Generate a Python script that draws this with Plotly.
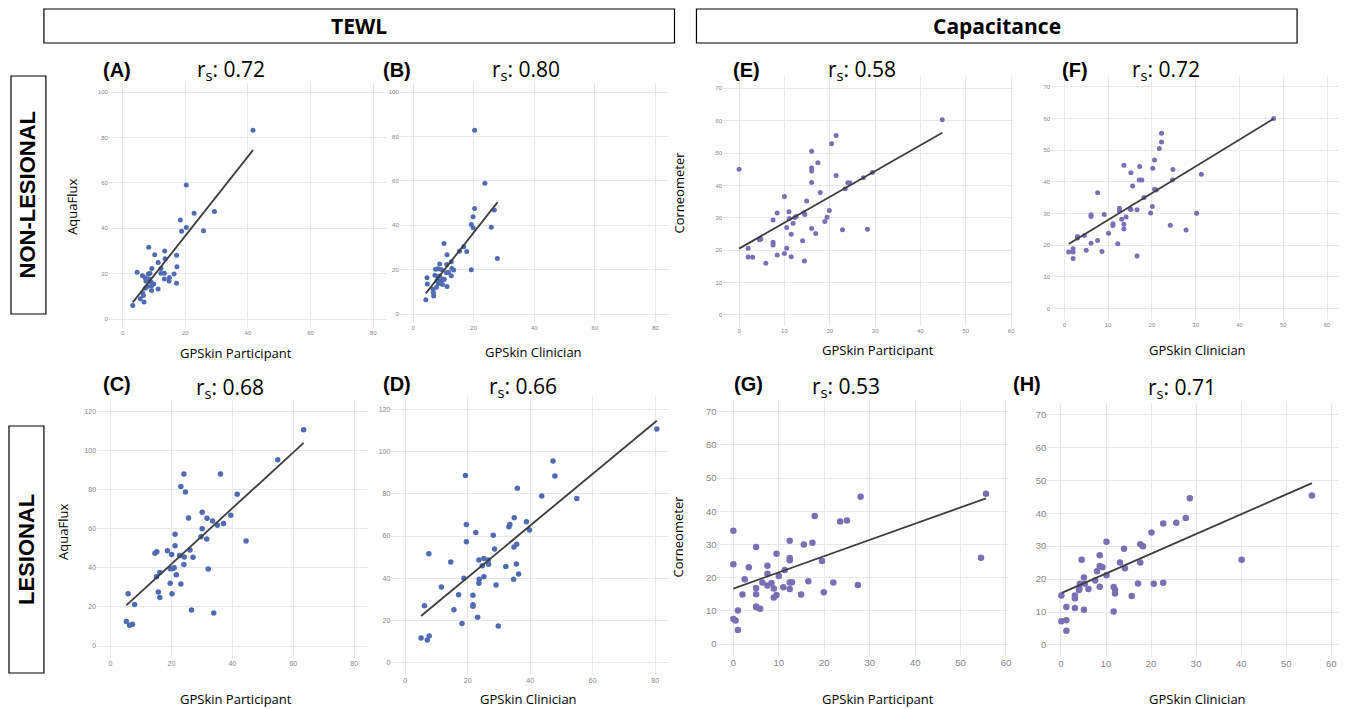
import plotly.graph_objects as go

# ---------------- DATA ----------------
# (A) TEWL, non-lesional: GPSkin Participant vs AquaFlux
A_x = [41.6, 20.3, 22.8, 29.3, 18.4, 20.3, 18.8, 25.8, 8.3, 10.2, 13.4, 13.5, 17.2, 11.3, 17.3,
       12.2, 9.3, 8.7, 8.2, 6.3, 4.6, 7.2, 8.5, 13.3, 12.2, 16.4, 14.9, 13.3, 14.8, 17.2,
       7.4, 9.0, 9.9, 9.2, 7.9, 11.3, 9.2, 7.2, 6.4, 6.6, 5.6, 6.8, 3.2]
A_y = [83.2, 59.0, 46.6, 47.4, 43.6, 40.3, 38.7, 38.9, 31.6, 28.3, 30.0, 26.5, 28.1, 24.9, 23.0,
       22.3, 22.3, 20.2, 19.8, 19.0, 20.6, 18.2, 17.6, 20.2, 20.2, 19.8, 18.3, 17.6, 16.7, 15.7,
       16.7, 16.4, 15.4, 14.6, 14.3, 13.2, 12.6, 13.6, 11.4, 10.4, 8.9, 7.5, 6.0]
A_fit_x = [3.2, 41.6]
A_fit_y = [7.3, 74.4]

# (B) TEWL, non-lesional: GPSkin Clinician vs AquaFlux
B_x = [20.3, 23.7, 26.8, 20.3, 19.8, 19.2, 19.8, 25.8, 10.2, 27.8, 11.2, 16.7, 17.7, 15.3, 8.8,
       11.1, 12.6, 19.2, 7.4, 8.2, 9.3, 12.8, 13.4, 11.7, 11.0, 12.6, 7.2, 8.1, 8.8, 4.6,
       9.9, 7.9, 8.7, 9.2, 10.3, 4.7, 8.3, 9.7, 11.2, 7.7, 6.6, 6.7, 6.8, 4.2]
B_y = [82.8, 58.9, 46.8, 47.5, 43.8, 40.3, 38.8, 39.1, 31.8, 25.0, 26.7, 30.3, 28.2, 28.3, 22.5,
       22.3, 23.5, 19.9, 20.2, 20.4, 20.1, 20.5, 19.8, 18.7, 18.6, 17.2, 17.5, 16.8, 17.1, 16.3,
       15.7, 15.0, 14.4, 15.0, 15.6, 13.5, 13.6, 13.3, 12.4, 12.0, 11.1, 9.6, 8.1, 6.4]
B_fit_x = [4.2, 27.9]
B_fit_y = [9.3, 50.4]

# (C) TEWL, lesional: GPSkin Participant vs AquaFlux
C_x = [63.4, 54.9, 24.1, 36.1, 23.1, 24.6, 41.6, 39.5, 25.6, 30.1, 31.7, 33.5, 37.1, 35.1, 30.1,
       29.7, 31.6, 44.5, 21.2, 21.2, 18.7, 14.6, 15.2, 20.1, 22.7, 24.2, 26.1, 27.1, 24.1, 20.3,
       20.9, 19.6, 16.2, 21.6, 32.1, 15.1, 19.6, 23.1, 15.7, 20.2, 16.2, 5.8, 7.9, 26.6, 33.9,
       5.2, 6.3, 7.2]
C_y = [110.8, 95.4, 88.1, 88.1, 81.7, 78.9, 77.7, 66.9, 65.6, 68.5, 65.4, 64.0, 62.8, 61.8, 60.1,
       56.0, 54.8, 53.8, 57.2, 51.4, 48.8, 47.5, 48.3, 46.8, 46.3, 45.6, 49.2, 45.4, 41.8, 39.6,
       40.1, 39.6, 37.6, 36.5, 39.4, 35.5, 32.1, 31.8, 27.7, 26.8, 24.8, 26.8, 21.2, 18.4, 16.9,
       12.5, 10.6, 11.1]
C_fit_x = [5.2, 63.4]
C_fit_y = [20.8, 104.0]

# (D) TEWL, lesional: GPSkin Clinician vs AquaFlux
D_x = [80.5, 47.3, 47.9, 19.3, 35.9, 43.7, 54.9, 34.9, 38.8, 33.5, 33.2, 39.8, 19.6, 22.6, 28.2,
       19.6, 35.7, 34.8, 28.6, 7.6, 14.6, 25.2, 23.6, 26.6, 26.7, 24.7, 35.6, 32.2, 18.8, 25.2,
       23.7, 23.6, 34.7, 36.3, 29.1, 11.6, 17.1, 21.7, 21.7, 21.7, 15.6, 6.2, 23.2, 18.2, 29.8,
       5.1, 7.1, 7.7]
D_y = [110.7, 95.5, 88.4, 88.6, 82.6, 79.0, 77.7, 68.7, 66.8, 65.5, 64.4, 62.8, 65.5, 61.7, 60.3,
       57.3, 56.1, 54.8, 53.8, 51.6, 47.7, 49.3, 48.6, 48.6, 46.6, 45.9, 46.7, 45.5, 40.0, 40.7,
       39.5, 37.6, 39.5, 42.0, 36.8, 35.8, 32.2, 31.9, 27.5, 26.7, 25.1, 27.0, 21.5, 18.6, 17.4,
       11.7, 10.7, 12.6]
D_fit_x = [5.1, 80.5]
D_fit_y = [22.1, 114.6]

# (E) Capacitance, non-lesional: GPSkin Participant vs Corneometer
E_x = [44.8, 21.4, 20.4, 16.0, 0.0, 16.0, 16.0, 17.4, 21.4, 16.0, 17.9, 24.0, 24.4, 23.4, 27.4,
       29.4, 10.0, 14.9, 8.4, 11.0, 14.3, 14.5, 11.1, 12.3, 12.6, 19.9, 19.4, 18.9, 7.5, 11.9,
       10.5, 16.0, 16.9, 22.8, 28.3, 11.5, 7.5, 7.5, 14.0, 4.8, 4.5, 2.0, 10.5, 10.0, 8.4,
       11.5, 2.0, 3.0, 5.9, 14.4]
E_y = [60.3, 55.4, 52.9, 50.6, 45.0, 45.4, 44.5, 47.0, 43.1, 40.9, 37.8, 40.8, 40.8, 39.0, 42.4,
       44.0, 36.6, 35.2, 31.5, 31.9, 31.6, 31.0, 29.8, 30.1, 30.4, 32.3, 30.2, 28.9, 29.3, 28.3,
       27.0, 26.7, 25.2, 26.3, 26.5, 24.9, 22.5, 21.6, 22.9, 23.5, 23.2, 20.6, 20.6, 19.0, 18.5,
       18.0, 17.9, 17.8, 16.0, 16.7]
E_fit_x = [0.0, 44.8]
E_fit_y = [20.5, 56.3]

# (F) Capacitance, non-lesional: GPSkin Clinician vs Corneometer
F_x = [47.8, 22.2, 22.2, 21.7, 20.6, 20.2, 24.8, 13.6, 17.2, 15.2, 31.3, 17.1, 17.7, 24.7, 15.6,
       7.6, 20.6, 21.0, 18.2, 12.6, 12.6, 15.0, 15.2, 16.6, 20.1, 19.7, 30.2, 6.1, 6.1, 9.1,
       14.1, 13.1, 11.1, 11.1, 13.6, 13.6, 24.2, 27.8, 10.1, 3.0, 3.0, 4.6, 7.6, 6.1, 12.2,
       5.0, 8.6, 2.0, 1.0, 2.0, 2.0, 16.6]
F_y = [60.0, 55.3, 52.6, 50.5, 46.9, 44.3, 43.9, 45.2, 44.8, 42.9, 42.4, 40.6, 40.6, 40.6, 38.7,
       36.6, 37.7, 37.4, 35.1, 31.7, 30.8, 31.5, 31.3, 31.2, 32.2, 30.2, 30.1, 29.6, 29.1, 29.7,
       28.9, 28.2, 26.8, 26.2, 26.6, 25.1, 26.3, 24.8, 23.8, 22.8, 22.3, 23.1, 21.5, 20.6, 20.5,
       18.4, 18.0, 18.9, 17.9, 17.9, 15.8, 16.6]
F_fit_x = [1.0, 47.8]
F_fit_y = [20.4, 59.9]

# (G) Capacitance, lesional: GPSkin Participant vs Corneometer
G_x = [55.6, 28.0, 17.9, 23.5, 25.0, 0.0, 12.4, 17.4, 15.5, 5.0, 9.5, 12.4, 12.4, 19.5, 54.5,
       0.0, 7.5, 3.4, 11.3, 7.5, 10.0, 2.5, 6.4, 8.4, 12.4, 12.9, 16.5, 22.0, 7.5, 27.4,
       5.0, 8.9, 11.0, 12.4, 19.9, 2.0, 5.0, 9.5, 14.9, 8.9, 5.0, 5.1, 5.9, 1.0, 0.0,
       0.5, 1.0]
G_y = [45.3, 44.4, 38.6, 36.9, 37.2, 34.1, 31.1, 30.5, 30.0, 29.2, 27.2, 25.9, 25.2, 25.0, 26.0,
       24.0, 23.6, 23.1, 22.3, 21.2, 20.5, 19.5, 18.5, 18.4, 18.5, 18.6, 18.9, 18.5, 17.6, 17.8,
       16.9, 16.7, 17.1, 16.6, 15.6, 14.9, 15.0, 14.8, 14.9, 14.0, 11.3, 11.1, 10.6, 10.1, 7.5,
       7.1, 4.2]
G_fit_x = [0.0, 55.6]
G_fit_y = [16.7, 43.9]

# (H) Capacitance, lesional: GPSkin Clinician vs Corneometer
H_x = [55.7, 28.6, 27.7, 25.6, 22.7, 20.1, 10.1, 17.6, 18.2, 14.0, 8.6, 4.6, 40.1, 13.1, 17.6,
       8.6, 9.2, 14.2, 8.0, 10.1, 5.1, 7.6, 4.2, 5.3, 4.0, 6.1, 4.1, 8.6, 11.7, 12.0,
       12.0, 17.1, 20.6, 22.7, 15.7, 0.1, 3.1, 3.1, 3.1, 5.1, 1.2, 11.7, 0.1, 1.2, 1.2]
H_y = [45.4, 44.5, 38.5, 37.1, 36.9, 34.1, 31.3, 30.6, 30.0, 29.2, 27.2, 25.9, 25.9, 25.0, 25.0,
       24.0, 23.6, 23.3, 22.4, 21.2, 20.5, 19.6, 18.6, 18.6, 16.7, 17.0, 17.1, 17.7, 17.6, 16.8,
       15.6, 18.7, 18.6, 18.9, 14.9, 15.0, 15.0, 14.2, 11.2, 10.7, 11.5, 10.2, 7.2, 7.5, 4.3]
H_fit_x = [0.2, 55.7]
H_fit_y = [15.8, 49.1]

panel_letters = ["(A)", "(B)", "(C)", "(D)", "(E)", "(F)", "(G)", "(H)"]
rs_values = ["0.72", "0.80", "0.68", "0.66", "0.58", "0.72", "0.53", "0.71"]
x_titles = ["GPSkin Participant", "GPSkin Clinician", "GPSkin Participant", "GPSkin Clinician",
            "GPSkin Participant", "GPSkin Clinician", "GPSkin Participant", "GPSkin Clinician"]
y_titles = ["AquaFlux", None, "AquaFlux", None, "Corneometer", None, "Corneometer", None]
group_titles = ["TEWL", "Capacitance"]
row_titles = ["NON-LESIONAL", "LESIONAL"]

TEWL_COLOR = "#4f6cb2"
CAP_COLOR = "#7a6fb5"

# ---------------- LAYOUT ----------------
# The page body has an 8px margin, so the figure is drawn 8px in from the window corner.
OFF = 8
W, H = 1347 - OFF, 709 - OFF
def PX(p):
    return (p - OFF) / W
def PY(p):
    return 1 - (p - OFF) / H

FONT = "Open Sans"

# pixel calibration (window pixels): (pixel at v0, v0, pixel at v1, v1), axis range, ticks, fonts
panels = [
    dict(x=A_x, y=A_y, fx=A_fit_x, fy=A_fit_y, c=TEWL_COLOR,
         xm=(123, 0, 374, 80), ym=(319, 0, 92, 100), xr=(-4.4, 84.4), yr=(-4, 104),
         xt=[0, 20, 40, 60, 80], yt=[0, 20, 40, 60, 80, 100], tf=6, ms=5,
         lab=(117, 70), rs=(232, 70), xtp=(237, 353), ytp=(72, 207)),
    dict(x=B_x, y=B_y, fx=B_fit_x, fy=B_fit_y, c=TEWL_COLOR,
         xm=(414, 0, 657, 80), ym=(314, 0, 92, 100), xr=(-4.4, 84.4), yr=(-4, 104),
         xt=[0, 20, 40, 60, 80], yt=[0, 20, 40, 60, 80, 100], tf=6, ms=5,
         lab=(398, 70), rs=(527, 70), xtp=(535, 352), ytp=None),
    dict(x=C_x, y=C_y, fx=C_fit_x, fy=C_fit_y, c=TEWL_COLOR,
         xm=(110.7, 0, 355, 80), ym=(646, 0, 411.7, 120), xr=(-4.4, 84.4), yr=(-6, 126),
         xt=[0, 20, 40, 60, 80], yt=[0, 20, 40, 60, 80, 100, 120], tf=7, ms=5.5,
         lab=(117, 384), rs=(230, 388), xtp=(237, 699), ytp=(63, 532)),
    dict(x=D_x, y=D_y, fx=D_fit_x, fy=D_fit_y, c=TEWL_COLOR,
         xm=(406, 0, 656.7, 80), ym=(662.7, 0, 409.3, 120), xr=(-4.4, 84.4), yr=(-6, 126),
         xt=[0, 20, 40, 60, 80], yt=[0, 20, 40, 60, 80, 100, 120], tf=7, ms=5.5,
         lab=(398, 384), rs=(524, 387), xtp=(530, 699), ytp=None),
    dict(x=E_x, y=E_y, fx=E_fit_x, fy=E_fit_y, c=CAP_COLOR,
         xm=(740.7, 0, 968, 50), ym=(315, 0, 88.3, 70), xr=(-3.5, 60.3), yr=(-3.5, 73.5),
         xt=[0, 10, 20, 30, 40, 50, 60], yt=[0, 10, 20, 30, 40, 50, 60, 70], tf=6, ms=5,
         lab=(748, 70), rs=(864, 70), xtp=(880, 350), ytp=(681, 192)),
    dict(x=F_x, y=F_y, fx=F_fit_x, fy=F_fit_y, c=CAP_COLOR,
         xm=(1066.7, 0, 1330, 60), ym=(308.7, 0, 86.7, 70), xr=(-3, 63), yr=(-3.5, 73.5),
         xt=[0, 10, 20, 30, 40, 50, 60], yt=[0, 10, 20, 30, 40, 50, 60, 70], tf=6, ms=5,
         lab=(1077, 70), rs=(1169, 70), xtp=(1200, 350), ytp=None),
    dict(x=G_x, y=G_y, fx=G_fit_x, fy=G_fit_y, c=CAP_COLOR,
         xm=(735, 0, 962.7, 50), ym=(644, 0, 411.7, 70), xr=(-3.5, 60.5), yr=(-3.5, 73.5),
         xt=[0, 10, 20, 30, 40, 50, 60], yt=[0, 10, 20, 30, 40, 50, 60, 70], tf=9.5, ms=6.5,
         lab=(750, 384), rs=(848, 387), xtp=(880, 699), ytp=(680, 536)),
    dict(x=H_x, y=H_y, fx=H_fit_x, fy=H_fit_y, c=CAP_COLOR,
         xm=(1063.3, 0, 1334.3, 60), ym=(645, 0, 414.3, 70), xr=(-3, 62), yr=(-3.5, 73.5),
         xt=[0, 10, 20, 30, 40, 50, 60], yt=[0, 10, 20, 30, 40, 50, 60, 70], tf=9.5, ms=6.5,
         lab=(1029, 384), rs=(1185, 388), xtp=(1200, 699), ytp=None),
]

fig = go.Figure()
annotations = []
shapes = []
layout_axes = {}

for i, p in enumerate(panels):
    n = i + 1
    xa = "x" if n == 1 else f"x{n}"
    ya = "y" if n == 1 else f"y{n}"
    fig.add_trace(go.Scatter(x=p["x"], y=p["y"], mode="markers", xaxis=xa, yaxis=ya,
                             marker=dict(color=p["c"], size=p["ms"], line=dict(width=0)),
                             hoverinfo="x+y"))
    fig.add_trace(go.Scatter(x=p["fx"], y=p["fy"], mode="lines", xaxis=xa, yaxis=ya,
                             line=dict(color="#3c3c3c", width=1.8), hoverinfo="skip"))
    p0, v0, p1, v1 = p["xm"]
    s = (p1 - p0) / (v1 - v0)
    xd = [max(0, PX(p0 + (p["xr"][0] - v0) * s)), min(1, PX(p0 + (p["xr"][1] - v0) * s))]
    q0, w0, q1, w1 = p["ym"]
    t = (q1 - q0) / (w1 - w0)
    yd = [PY(q0 + (p["yr"][0] - w0) * t), PY(q0 + (p["yr"][1] - w0) * t)]
    common = dict(showgrid=True, gridcolor="#e8e8e8", gridwidth=1, zeroline=False,
                  showline=False, ticks="",
                  tickfont=dict(size=p["tf"], color="#858585", family="Liberation Sans"),
                  fixedrange=True)
    layout_axes["xaxis" if n == 1 else f"xaxis{n}"] = dict(
        domain=xd, range=list(p["xr"]), tickvals=p["xt"], anchor=ya, **common)
    layout_axes["yaxis" if n == 1 else f"yaxis{n}"] = dict(
        domain=yd, range=list(p["yr"]), tickvals=p["yt"], anchor=xa, **common)

    annotations.append(dict(text=f"<b>{panel_letters[i]}</b>", x=PX(p["lab"][0]), y=PY(p["lab"][1]),
                            xref="paper", yref="paper", showarrow=False, xanchor="center", yanchor="middle",
                            font=dict(family="Liberation Sans", size=20, color="black")))
    annotations.append(dict(text=f"r<sub>s</sub>: {rs_values[i]}", x=PX(p["rs"][0]), y=PY(p["rs"][1]),
                            xref="paper", yref="paper", showarrow=False, xanchor="center", yanchor="middle",
                            font=dict(family=FONT, size=21, color="black")))
    annotations.append(dict(text=x_titles[i], x=PX(p["xtp"][0]), y=PY(p["xtp"][1]),
                            xref="paper", yref="paper", showarrow=False, xanchor="center", yanchor="middle",
                            font=dict(family=FONT, size=13, color="black")))
    if y_titles[i]:
        annotations.append(dict(text=y_titles[i], x=PX(p["ytp"][0]), y=PY(p["ytp"][1]),
                                xref="paper", yref="paper", showarrow=False, textangle=-90,
                                xanchor="center", yanchor="middle",
                                font=dict(family=FONT, size=13, color="black")))

# Group header boxes
header_boxes = [(44, 9, 676, 43), (698, 9, 1300, 43)]
for (x0, y0, x1, y1), title in zip(header_boxes, group_titles):
    shapes.append(dict(type="rect", xref="paper", yref="paper", x0=PX(x0), x1=PX(x1), y0=PY(y1), y1=PY(y0),
                       line=dict(color="black", width=1.2), fillcolor="rgba(0,0,0,0)"))
    annotations.append(dict(text=f"<b>{title}</b>", x=PX((x0 + x1) / 2), y=PY((y0 + y1) / 2),
                            xref="paper", yref="paper", showarrow=False, xanchor="center", yanchor="middle",
                            font=dict(family=FONT, size=21, color="black")))

row_boxes = [(11, 76, 46, 314), (9, 426, 44, 673)]
for (x0, y0, x1, y1), title in zip(row_boxes, row_titles):
    shapes.append(dict(type="rect", xref="paper", yref="paper", x0=PX(x0), x1=PX(x1), y0=PY(y1), y1=PY(y0),
                       line=dict(color="black", width=1.2), fillcolor="rgba(0,0,0,0)"))
    annotations.append(dict(text=f"<b>{title}</b>", x=PX((x0 + x1) / 2), y=PY((y0 + y1) / 2),
                            xref="paper", yref="paper", showarrow=False, textangle=-90,
                            xanchor="center", yanchor="middle",
                            font=dict(family="Liberation Sans", size=22, color="black")))

fig.update_layout(width=W, height=H, autosize=False, margin=dict(l=0, r=0, t=0, b=0),
                  paper_bgcolor="white", plot_bgcolor="white", showlegend=False,
                  annotations=annotations, shapes=shapes, **layout_axes)

fig.write_html("out.html", config={"displayModeBar": False})
